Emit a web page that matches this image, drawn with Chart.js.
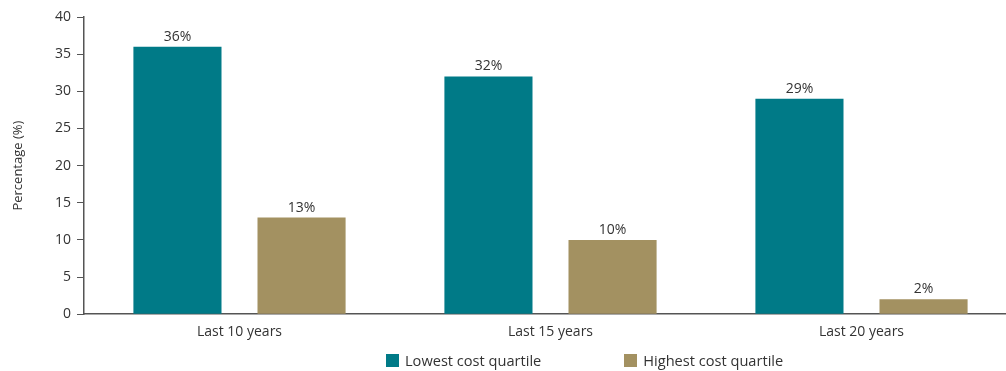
<!DOCTYPE html>
<html>
<head>
<meta charset="utf-8">
<script src="https://cdn.jsdelivr.net/npm/chart.js@4"></script>
<style>
  html, body { margin: 0; padding: 0; background: #fff; overflow: hidden; }
  #wrap { width: 1017px; height: 353px; position: relative; }
  #legend { position: absolute; top: 351px; left: 386px; height: 18px;
            display: flex; gap: 83px;
            font-family: 'Open Sans', sans-serif; font-size: 14.6px; color: #333; }
  #legend .item { display: flex; align-items: center; white-space: nowrap; }
  #legend .box { width: 13px; height: 13px; margin-right: 6px; }
</style>
</head>
<body>
<div id="wrap"><canvas id="chart"></canvas></div>
<div id="legend"></div>
<script>
// Data
const periods = ['Last 10 years', 'Last 15 years', 'Last 20 years'];
const seriesNames = ['Lowest cost quartile', 'Highest cost quartile'];
const lowestCost = [36, 32, 29];
const highestCost = [13, 10, 2];
const yTicks = [0, 5, 10, 15, 20, 25, 30, 35, 40];

const TEAL = '#007a87';
const TAN = '#a39161';
const TEXT = '#333333';
const FONT = "'Open Sans', sans-serif";

// Percent labels above each bar
const barLabels = {
    id: 'barLabels',
    afterDatasetsDraw(chart) {
        const ctx = chart.ctx;
        ctx.save();
        ctx.fillStyle = TEXT;
        ctx.font = '14px ' + FONT;
        ctx.textAlign = 'center';
        ctx.textBaseline = 'bottom';
        chart.data.datasets.forEach(function(ds, i) {
            chart.getDatasetMeta(i).data.forEach(function(bar, j) {
                ctx.fillText(ds.data[j] + '%', bar.x, bar.y - 3);
            });
        });
        ctx.restore();
    }
};

let ctx = document.getElementById('chart').getContext('2d');
let chart = new Chart(ctx, {
    type: 'bar',
    data: {
        labels: periods,
        datasets: [
            { label: seriesNames[0], data: lowestCost, backgroundColor: TEAL },
            { label: seriesNames[1], data: highestCost, backgroundColor: TAN }
        ]
    },
    options: {
        responsive: true,
        maintainAspectRatio: false,
        animation: false,
        layout: { padding: { top: 17, right: 0, left: 0, bottom: 4 } },
        datasets: { bar: { categoryPercentage: 0.798, barPercentage: 0.71 } },
        scales: {
            x: {
                grid: { display: false, drawTicks: false },
                border: { color: '#555', width: 1.5 },
                ticks: { color: TEXT, font: { family: FONT, size: 14 }, padding: 9 }
            },
            y: {
                min: 0,
                max: 40,
                afterBuildTicks(axis) { axis.ticks = yTicks.map(v => ({ value: v })); },
                afterFit(axis) { axis.width = 84; },
                grid: { display: true, drawOnChartArea: false, drawTicks: true, tickLength: 7, color: '#555' },
                border: { color: '#555', width: 1.5 },
                ticks: { color: TEXT, font: { family: FONT, size: 14 }, padding: 6 },
                title: {
                    display: true,
                    text: 'Percentage (%)',
                    color: TEXT,
                    font: { family: FONT, size: 13 },
                    padding: { top: 10, bottom: 0 }
                }
            }
        },
        plugins: {
            legend: { display: false },
            tooltip: { enabled: false }
        }
    },
    plugins: [barLabels]
});

// Legend below the chart
let legend = document.getElementById('legend');
chart.data.datasets.forEach(function(ds) {
    let item = document.createElement('div');
    item.className = 'item';
    item.innerHTML = '<span class="box" style="background:' + ds.backgroundColor + '"></span>' + ds.label;
    legend.appendChild(item);
});
</script>
</body>
</html>
